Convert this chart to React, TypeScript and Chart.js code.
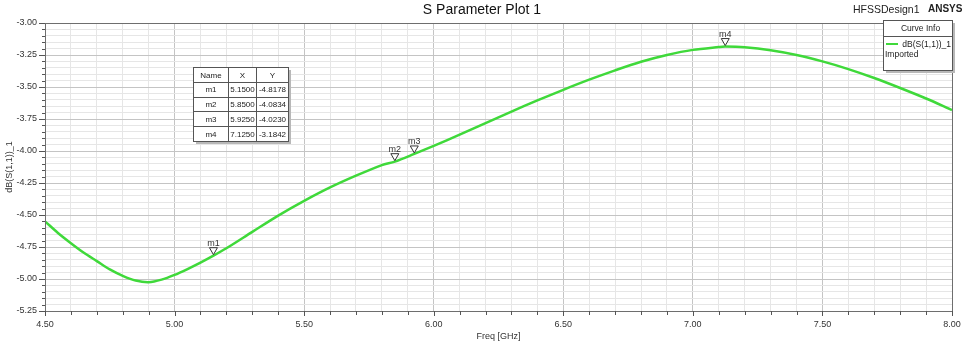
import React, { useEffect, useRef } from 'react';
import { Chart, registerables } from 'chart.js';
Chart.register(...registerables);

const freqGHz = [4.5, 4.55, 4.6, 4.65, 4.7, 4.75, 4.8, 4.85, 4.9, 4.95, 5.0, 5.05, 5.1, 5.15, 5.2, 5.3, 5.4, 5.5, 5.6, 5.7, 5.8, 5.85, 5.925, 6.0, 6.1, 6.2, 6.3, 6.4, 6.5, 6.6, 6.7, 6.8, 6.9, 7.0, 7.1, 7.125, 7.2, 7.3, 7.4, 7.5, 7.6, 7.7, 7.8, 7.9, 8.0];
const s11dB = [-4.55, -4.64, -4.72, -4.795, -4.86, -4.925, -4.975, -5.012, -5.025, -5.005, -4.968, -4.922, -4.872, -4.8178, -4.76, -4.632, -4.505, -4.39, -4.285, -4.193, -4.11, -4.0834, -4.023, -3.96, -3.872, -3.782, -3.692, -3.605, -3.522, -3.443, -3.37, -3.303, -3.25, -3.21, -3.188, -3.1842, -3.19, -3.213, -3.25, -3.3, -3.36, -3.43, -3.508, -3.59, -3.68];

const markerNames = ['m1', 'm2', 'm3', 'm4'];
const markerX = [5.15, 5.85, 5.925, 7.125];
const markerY = [-4.8178, -4.0834, -4.023, -3.1842];

const xMin = 4.5, xMax = 8.0, xMajor = 0.5, xMinor = 0.1;
const yMin = -5.25, yMax = -3.0, yMajor = 0.25, yMinor = 0.05;

const titleText = 'S Parameter Plot 1';
const designText = 'HFSSDesign1';
const brandText = 'ANSYS';
const xTitle = 'Freq [GHz]';
const yTitle = 'dB(S(1,1))_1';
const seriesName = 'dB(S(1,1))_1';
const seriesSource = 'Imported';

const FONT = '"Liberation Sans", Arial, sans-serif';
const GREEN = '#3fd93a';

const isMult = (v: number, step: number) => Math.abs(v / step - Math.round(v / step)) < 1e-6;

const decorPlugin = {
  id: 'hfssDecor',
  afterDraw(chart: any) {
    const ctx = chart.ctx as CanvasRenderingContext2D;
    const { left, right, top, bottom } = chart.chartArea;
    const xs = chart.scales.x, ys = chart.scales.y;
    ctx.save();
    // border box
    ctx.strokeStyle = '#6e6e6e';
    ctx.lineWidth = 1;
    ctx.strokeRect(Math.round(left) + 0.5, Math.round(top) + 0.5, Math.round(right - left), Math.round(bottom - top));
    // tick marks
    ctx.strokeStyle = '#555';
    ctx.beginPath();
    const nY = Math.round((yMax - yMin) / yMinor);
    for (let i = 0; i <= nY; i++) {
      const v = yMin + i * yMinor;
      const py = Math.round(ys.getPixelForValue(v)) + 0.5;
      const len = isMult(v, yMajor) ? 6 : 3;
      ctx.moveTo(left - len, py);
      ctx.lineTo(left, py);
    }
    const nX = Math.round((xMax - xMin) / xMinor);
    for (let i = 0; i <= nX; i++) {
      const v = xMin + i * xMinor;
      const px = Math.round(xs.getPixelForValue(v)) + 0.5;
      const len = isMult(v, xMajor) ? 5 : 4;
      ctx.moveTo(px, bottom);
      ctx.lineTo(px, bottom + len);
    }
    ctx.stroke();

    // markers
    ctx.font = `9px ${FONT}`;
    ctx.textAlign = 'center';
    ctx.textBaseline = 'alphabetic';
    for (let i = 0; i < markerNames.length; i++) {
      const px = xs.getPixelForValue(markerX[i]);
      const py = ys.getPixelForValue(markerY[i]);
      ctx.fillStyle = '#fff';
      ctx.strokeStyle = '#333';
      ctx.beginPath();
      ctx.moveTo(px, py - 1);
      ctx.lineTo(px - 4, py - 8);
      ctx.lineTo(px + 4, py - 8);
      ctx.closePath();
      ctx.fill();
      ctx.stroke();
      ctx.fillStyle = '#333';
      ctx.fillText(markerNames[i], px, py - 10);
    }

    // marker table
    const tx = 193, ty = 67;
    const colW = [35, 28, 32];
    const rowH = 14.8;
    const tw = colW.reduce((a, b) => a + b, 0);
    const th = rowH * (markerNames.length + 1);
    ctx.fillStyle = '#b8b8b8';
    ctx.fillRect(tx + 3, ty + 3, tw, th);
    ctx.fillStyle = '#fff';
    ctx.fillRect(tx, ty, tw, th);
    ctx.strokeStyle = '#555';
    ctx.strokeRect(tx + 0.5, ty + 0.5, tw, th);
    ctx.beginPath();
    let cx = tx;
    for (let c = 0; c < colW.length - 1; c++) {
      cx += colW[c];
      ctx.moveTo(Math.round(cx) + 0.5, ty);
      ctx.lineTo(Math.round(cx) + 0.5, ty + th);
    }
    for (let r = 1; r <= markerNames.length; r++) {
      const ry = Math.round(ty + r * rowH) + 0.5;
      ctx.moveTo(tx, ry);
      ctx.lineTo(tx + tw, ry);
    }
    ctx.stroke();
    ctx.font = `8px ${FONT}`;
    ctx.fillStyle = '#222';
    ctx.textBaseline = 'middle';
    const header = ['Name', 'X', 'Y'];
    const rows = [header, ...markerNames.map((n, i) => [n, markerX[i].toFixed(4), markerY[i].toFixed(4)])];
    rows.forEach((row, r) => {
      let x0 = tx;
      row.forEach((cell, c) => {
        ctx.fillText(cell, x0 + colW[c] / 2 + 0.5, ty + r * rowH + rowH / 2 + 1);
        x0 += colW[c];
      });
    });

    // curve info legend
    const lx = 883, ly = 20, lw = 69, lh = 50;
    ctx.fillStyle = '#b8b8b8';
    ctx.fillRect(lx + 3, ly + 3, lw, lh);
    ctx.fillStyle = '#fff';
    ctx.fillRect(lx, ly, lw, lh);
    ctx.strokeStyle = '#555';
    ctx.strokeRect(lx + 0.5, ly + 0.5, lw, lh);
    ctx.beginPath();
    ctx.moveTo(lx, ly + 16.5);
    ctx.lineTo(lx + lw, ly + 16.5);
    ctx.stroke();
    ctx.fillStyle = '#222';
    ctx.font = `8.5px ${FONT}`;
    ctx.textAlign = 'center';
    ctx.fillText('Curve Info', lx + lw / 2 + 3, ly + 9);
    ctx.strokeStyle = GREEN;
    ctx.lineWidth = 2;
    ctx.beginPath();
    ctx.moveTo(lx + 3, ly + 24);
    ctx.lineTo(lx + 15, ly + 24);
    ctx.stroke();
    ctx.textAlign = 'right';
    ctx.fillText(seriesName, lx + lw - 1, ly + 24.5);
    ctx.textAlign = 'left';
    ctx.fillText(seriesSource, lx + 2, ly + 35);

    // titles
    ctx.fillStyle = '#111';
    ctx.textAlign = 'center';
    ctx.font = `14px ${FONT}`;
    ctx.fillText(titleText, 482, 10);
    ctx.textAlign = 'left';
    ctx.font = `10.5px ${FONT}`;
    ctx.fillStyle = '#222';
    ctx.fillText(designText, 853, 10);
    ctx.font = `bold 10px ${FONT}`;
    ctx.fillText(brandText, 928, 9);

    // axis titles
    ctx.font = `9px ${FONT}`;
    ctx.fillStyle = '#333';
    ctx.textAlign = 'center';
    ctx.fillText(xTitle, (left + right) / 2, 337);
    ctx.save();
    ctx.translate(10, (top + bottom) / 2);
    ctx.rotate(-Math.PI / 2);
    ctx.fillText(yTitle, 0, 0);
    ctx.restore();
    ctx.restore();
  },
};

export default function App() {
  const ref = useRef<HTMLCanvasElement | null>(null);
  useEffect(() => {
    document.body.style.margin = '0';
    const canvas = ref.current!;
    const chart = new Chart(canvas, {
      type: 'line',
      data: {
        datasets: [
          {
            label: seriesName,
            data: freqGHz.map((f, i) => ({ x: f, y: s11dB[i] })),
            borderColor: GREEN,
            borderWidth: 2.5,
            pointRadius: 0,
            tension: 0.3,
            fill: false,
          },
        ],
      },
      options: {
        animation: false,
        responsive: false,
        maintainAspectRatio: false,
        layout: { padding: { top: 23, right: 11, left: 0, bottom: 0 } },
        plugins: { legend: { display: false }, title: { display: false }, tooltip: { enabled: false } },
        scales: {
          x: {
            type: 'linear',
            min: xMin,
            max: xMax,
            afterFit: (s: any) => { s.height = 34; s.paddingLeft = 0; s.paddingRight = 0; },
            ticks: {
              stepSize: xMinor,
              autoSkip: false,
              maxRotation: 0,
              padding: 8,
              color: '#333',
              font: { family: FONT, size: 9 },
              callback: (v: any) => (isMult(Number(v), xMajor) ? Number(v).toFixed(2) : ''),
            },
            grid: {
              drawTicks: false,
              color: (c: any) => (c.tick && isMult(c.tick.value, xMajor) ? '#c4c4c4' : '#e6e6e6'),
            },
            border: { display: true, color: '#555' },
          },
          y: {
            type: 'linear',
            min: yMin,
            max: yMax,
            afterFit: (s: any) => { s.width = 45; s.paddingTop = 0; s.paddingBottom = 0; },
            ticks: {
              stepSize: yMinor,
              autoSkip: false,
              padding: 8,
              color: '#333',
              font: { family: FONT, size: 9 },
              callback: (v: any) => (isMult(Number(v), yMajor) ? Number(v).toFixed(2) : ''),
            },
            grid: {
              drawTicks: false,
              color: (c: any) => (c.tick && isMult(c.tick.value, yMajor) ? '#c4c4c4' : '#e6e6e6'),
            },
            border: { display: true, color: '#555' },
          },
        },
      },
      plugins: [decorPlugin],
    } as any);
    return () => chart.destroy();
  }, []);
  return (
    <div style={{ width: 963, height: 345, background: '#fff' }}>
      <canvas ref={ref} width={963} height={345} style={{ display: 'block', width: 963, height: 345 }} />
    </div>
  );
}
